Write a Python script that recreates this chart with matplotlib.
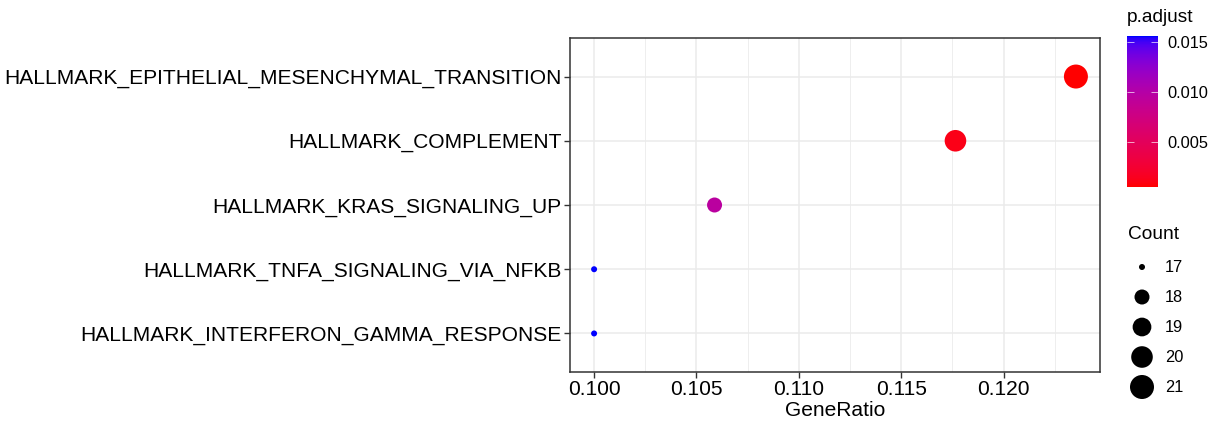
import numpy as np
import matplotlib
matplotlib.use('Agg')
import matplotlib.pyplot as plt
from matplotlib.colors import ListedColormap, Normalize
from matplotlib.colorbar import ColorbarBase

# enrichment results (hallmark gene sets)
terms = ['HALLMARK_EPITHELIAL_MESENCHYMAL_TRANSITION',
         'HALLMARK_COMPLEMENT',
         'HALLMARK_KRAS_SIGNALING_UP',
         'HALLMARK_TNFA_SIGNALING_VIA_NFKB',
         'HALLMARK_INTERFERON_GAMMA_RESPONSE']
counts = [21, 20, 18, 17, 17]
gene_ratio = [21/170, 20/170, 18/170, 17/170, 17/170]
p_adjust = [0.0005, 0.0012, 0.0095, 0.0156, 0.0156]
x_ticks = [0.100, 0.105, 0.110, 0.115, 0.120]
cb_ticks = [0.005, 0.010, 0.015]
size_breaks = [17, 18, 19, 20, 21]

plt.rcParams['font.family'] = ['Liberation Sans', 'DejaVu Sans']

W, H = 1215, 424
DPI = 100


# red -> blue gradient interpolated in CIELAB
def to_lab(rgb):
    c = np.asarray(rgb, float)
    c = np.where(c > 0.04045, ((c + 0.055) / 1.055) ** 2.4, c / 12.92)
    M = np.array([[0.4124, 0.3576, 0.1805],
                  [0.2126, 0.7152, 0.0722],
                  [0.0193, 0.1192, 0.9505]])
    xyz = M @ c / np.array([0.95047, 1.0, 1.08883])
    f = np.where(xyz > 0.008856, np.cbrt(xyz), 7.787 * xyz + 16/116)
    return np.array([116*f[1] - 16, 500*(f[0] - f[1]), 200*(f[1] - f[2])])


def from_lab(lab):
    L, a, b = lab
    fy = (L + 16) / 116
    f = np.array([fy + a/500, fy, fy - b/200])
    xyz = np.where(f**3 > 0.008856, f**3, (f - 16/116) / 7.787)
    xyz = xyz * np.array([0.95047, 1.0, 1.08883])
    Mi = np.array([[3.2406, -1.5372, -0.4986],
                   [-0.9689, 1.8758, 0.0415],
                   [0.0557, -0.2040, 1.0570]])
    c = Mi @ xyz
    c = np.where(c > 0.0031308, 1.055 * np.clip(c, 0, None) ** (1/2.4) - 0.055, 12.92 * c)
    return np.clip(c, 0, 1)


lab_lo, lab_hi = to_lab([1, 0, 0]), to_lab([0, 0, 1])
cmap = ListedColormap([from_lab(lab_lo + t * (lab_hi - lab_lo)) for t in np.linspace(0, 1, 256)])
norm = Normalize(min(p_adjust), max(p_adjust))


# area scale: diameter grows with sqrt of rescaled count
def dot_size(n):
    lo, hi = min(size_breaks), max(size_breaks)
    d_px = 6 + 18 * np.sqrt((np.asarray(n, float) - lo) / (hi - lo))
    return (d_px * 72 / DPI) ** 2


fig = plt.figure(figsize=(W/DPI, H/DPI), dpi=DPI)
ax = fig.add_axes([570/W, 1 - 372/H, 530/W, 334/H])

ypos = np.arange(len(terms))[::-1]
ax.scatter(gene_ratio, ypos, s=dot_size(counts), c=p_adjust, cmap=cmap, norm=norm,
           linewidths=0, zorder=3)

ax.set_yticks(ypos)
ax.set_yticklabels(terms, fontsize=15.1, color='black')
ax.set_ylim(-0.6, len(terms) - 0.4)
ax.set_xticks(x_ticks)
ax.set_xticklabels(['%.3f' % v for v in x_ticks], fontsize=15.1, color='black')
ax.set_xticks(np.array(x_ticks) + 0.0025, minor=True)
span = max(gene_ratio) - min(gene_ratio)
ax.set_xlim(min(gene_ratio) - 0.05 * span, max(gene_ratio) + 0.05 * span)
ax.set_xlabel('GeneRatio', fontsize=15.1, labelpad=1)

ax.grid(True, which='major', color='#EBEBEB', linewidth=1.1)
ax.grid(True, which='minor', axis='x', color='#EBEBEB', linewidth=0.6)
ax.set_axisbelow(True)
ax.tick_params(which='major', length=4, width=1, color='#333333', pad=2)
ax.tick_params(which='minor', length=0)
for sp in ax.spines.values():
    sp.set_color('#333333')
    sp.set_linewidth(1.1)

# colour legend
cax = fig.add_axes([1127/W, 1 - 187/H, 31/W, 151/H])
cb = ColorbarBase(cax, cmap=cmap, norm=norm, ticks=cb_ticks)
cb.outline.set_visible(False)
cb.ax.set_yticklabels(['%.3f' % v for v in cb_ticks], fontsize=11.8)
cax.tick_params(axis='y', which='both', direction='in', left=True, right=True,
                color='#FFFFFFAA', length=5, width=0.7, pad=7)
cax.tick_params(which='minor', length=0)
fig.text(1127/W, 1 - 17/H, 'p.adjust', fontsize=13.8, va='center', ha='left')

# size legend
lax = fig.add_axes([1125/W, 1 - 402/H, 90/W, 150/H])
lax.set_xlim(0, 90)
lax.set_ylim(402, 252)
lax.axis('off')
leg_y = 267 + 30 * np.arange(len(size_breaks))
lax.scatter(np.full(len(size_breaks), 17), leg_y, s=dot_size(size_breaks), color='black',
            linewidths=0, clip_on=False)
for yy, n in zip(leg_y, size_breaks):
    lax.text(40, yy, str(n), fontsize=11.8, va='center', ha='left')
fig.text(1128/W, 1 - 234/H, 'Count', fontsize=13.8, va='center', ha='left')

fig.savefig('out.png', dpi=DPI)
